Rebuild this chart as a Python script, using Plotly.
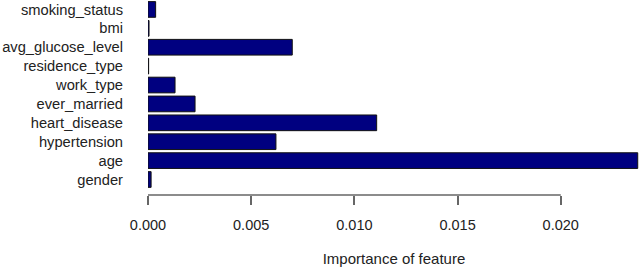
import plotly.graph_objects as go

features = ["gender", "age", "hypertension", "heart_disease", "ever_married",
            "work_type", "residence_type", "avg_glucose_level", "bmi", "smoking_status"]
importance = [0.00015, 0.02373, 0.0062, 0.01108, 0.00228,
              0.00131, 0.00003, 0.00699, 0.00005, 0.00037]
tick_vals = [0.0, 0.005, 0.010, 0.015, 0.020]
tick_text = ["0.000", "0.005", "0.010", "0.015", "0.020"]

fig = go.Figure(go.Bar(
    x=importance, y=list(range(len(features))), orientation="h",
    marker=dict(color="#000080", line=dict(color="#111111", width=1)),
))

fig.update_layout(
    width=640, height=268,
    margin=dict(l=148, r=0, t=0, b=73, autoexpand=False),
    paper_bgcolor="white", plot_bgcolor="white",
    bargap=0.17, showlegend=False,
    font=dict(family="Liberation Sans, Arial, sans-serif", size=14.7, color="#222222"),
)
fig.update_xaxes(
    range=[0, 0.02384], showgrid=False, zeroline=False, showline=False,
    tickvals=tick_vals, ticktext=tick_text, ticks="outside", ticklen=9,
    tickcolor="#666666", tickwidth=1.5, ticklabelstandoff=8, automargin=False,
    tickfont=dict(size=14.5),
    title=dict(text="Importance of feature", standoff=21, font=dict(size=15)),
)
fig.update_yaxes(
    range=[-0.82, 9.5], showgrid=False, zeroline=False, showline=False,
    tickvals=list(range(len(features))), ticktext=features, ticks="",
    ticklabelstandoff=24, automargin=False,
)
fig.add_shape(type="line", xref="x", yref="paper", x0=0, x1=0.020, y0=0, y1=0,
              line=dict(color="#666666", width=1.5))

fig.write_html("out.html", config={"displayModeBar": False},
               post_script="document.body.style.margin='0';")
